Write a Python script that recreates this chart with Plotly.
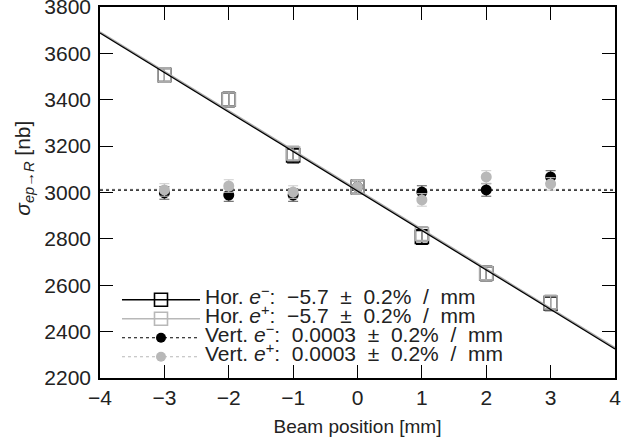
import plotly.graph_objects as go

# ---- data ----
positions = [-3, -2, -1, 0, 1, 2, 3]

hor_eminus = [3507, 3401, 3160, 3024, 2808, 2651, 2522]
hor_eplus = [3507, 3401, 3168, 3024, 2821, 2651, 2526]
hor_err = [32, 32, 32, 32, 32, 32, 32]

vert_eminus = [2998, 2989, 2989, 3024, 3002, 3011, 3067]
vert_eplus = [3011, 3028, 3002, 3024, 2968, 3067, 3037]
vert_err = [27, 27, 27, 27, 27, 27, 27]

fit_x = [-4, 4]
fit_hor_eminus = [3688, 2325]
fit_hor_eplus = [3693, 2331]
fit_vert_eminus = [3010, 3010]
fit_vert_eplus = [3014, 3014]

legend_labels = [
    "Hor. <i>e</i><sup>−</sup>:  −5.7  ±  0.2%  /  mm",
    "Hor. <i>e</i><sup>+</sup>:  −5.7  ±  0.2%  /  mm",
    "Vert. <i>e</i><sup>−</sup>:  0.0003  ±  0.2%  /  mm",
    "Vert. <i>e</i><sup>+</sup>:  0.0003  ±  0.2%  /  mm",
]

x_title = "Beam position [mm]"
y_title = "<i>σ</i><sub><i>ep</i>→<i>R</i></sub> [nb]"

BLACK = "#000000"
GRAY = "#aaaaaa"
LGRAY = "#b8b8b8"
FONT = "Liberation Sans"
TXT = "#222222"

fig = go.Figure()

# fit lines for vertical scans
fig.add_trace(go.Scatter(x=fit_x, y=fit_vert_eplus, mode="lines",
                         line=dict(color=LGRAY, width=1.2, dash="dot"),
                         showlegend=False, hoverinfo="skip"))
fig.add_trace(go.Scatter(x=fit_x, y=fit_vert_eminus, mode="lines",
                         line=dict(color=BLACK, width=1.2, dash="dot"),
                         showlegend=False, hoverinfo="skip"))

# horizontal scan points
fig.add_trace(go.Scatter(x=positions, y=hor_eminus, mode="markers",
                         marker=dict(symbol="square-open", size=13, color=BLACK,
                                     line=dict(width=1.6, color=BLACK)),
                         error_y=dict(type="data", array=hor_err, color=BLACK,
                                      thickness=1.2, width=6),
                         showlegend=False))
fig.add_trace(go.Scatter(x=positions, y=hor_eplus, mode="markers",
                         marker=dict(symbol="square-open", size=13, color=GRAY,
                                     line=dict(width=1.6, color=GRAY)),
                         error_y=dict(type="data", array=hor_err, color=GRAY,
                                      thickness=1.2, width=6),
                         showlegend=False))

# vertical scan points
fig.add_trace(go.Scatter(x=positions, y=vert_eminus, mode="markers",
                         marker=dict(symbol="circle", size=11, color=BLACK),
                         error_y=dict(type="data", array=vert_err, color="#555555",
                                      thickness=1, width=5),
                         showlegend=False))
fig.add_trace(go.Scatter(x=positions, y=vert_eplus, mode="markers",
                         marker=dict(symbol="circle", size=11, color=LGRAY),
                         error_y=dict(type="data", array=vert_err, color="#cccccc",
                                      thickness=1, width=5),
                         showlegend=False))

# fit lines for horizontal scans
fig.add_trace(go.Scatter(x=fit_x, y=fit_hor_eplus, mode="lines",
                         line=dict(color=GRAY, width=1.5),
                         showlegend=False, hoverinfo="skip"))
fig.add_trace(go.Scatter(x=fit_x, y=fit_hor_eminus, mode="lines",
                         line=dict(color=BLACK, width=1.3),
                         showlegend=False, hoverinfo="skip"))

# legend entries (small legend font keeps rows tight; text itself is enlarged via span)
legend_styles = [
    dict(line=dict(color=BLACK, width=1.3),
         marker=dict(symbol="square-open", size=13, color=BLACK, line=dict(width=1.6, color=BLACK))),
    dict(line=dict(color=LGRAY, width=1.3),
         marker=dict(symbol="square-open", size=13, color=LGRAY, line=dict(width=1.6, color=LGRAY))),
    dict(line=dict(color=BLACK, width=1.2, dash="dot"),
         marker=dict(symbol="circle", size=10, color=BLACK)),
    dict(line=dict(color=LGRAY, width=1.2, dash="dot"),
         marker=dict(symbol="circle", size=10, color=LGRAY)),
]
for lab, st in zip(legend_labels, legend_styles):
    fig.add_trace(go.Scatter(x=[None], y=[None], mode="lines+markers",
                             name="<span style='font-size:21px'>" + lab + "</span>", **st))

axis_common = dict(
    showgrid=False, zeroline=False, showline=True, linecolor=BLACK, linewidth=1.5,
    mirror="ticks", ticks="inside", ticklen=13, tickwidth=1.2, tickcolor=BLACK,
    tickfont=dict(family=FONT, size=21, color=TXT),
    ticklabeloverflow="allow", automargin=False,
)

fig.update_layout(
    width=640, height=443,
    margin=dict(l=100, r=25, t=7, b=65),
    paper_bgcolor="white", plot_bgcolor="white",
    font=dict(family=FONT, size=19, color=TXT),
    xaxis=dict(range=[-4, 4], dtick=1, tickformat="d",
               title=dict(text=x_title, font=dict(family=FONT, size=19), standoff=12),
               **axis_common),
    yaxis=dict(range=[2200, 3800], dtick=200, ticklabelstandoff=3,
               **axis_common),
    legend=dict(x=0.033, y=0.25, xanchor="left", yanchor="top",
                bgcolor="rgba(0,0,0,0)", font=dict(family=FONT, size=12, color=TXT),
                itemwidth=78, tracegroupgap=0, traceorder="normal"),
    showlegend=True,
    annotations=[dict(text=y_title, textangle=-90, xref="paper", yref="paper",
                      x=-0.148, y=0.566, xanchor="center", yanchor="middle",
                      showarrow=False, font=dict(family=FONT, size=21, color=TXT))],
)

fig.write_html("out.html")
